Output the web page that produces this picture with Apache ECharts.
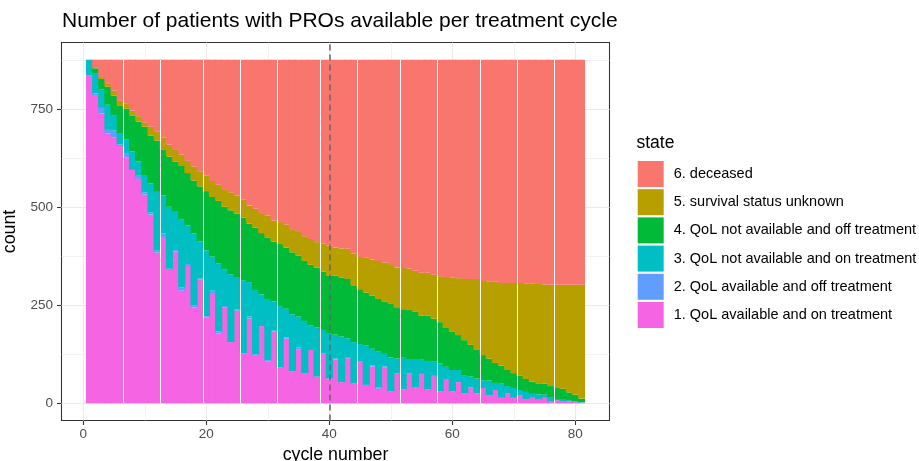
<!DOCTYPE html>
<html>
<head>
<meta charset="utf-8">
<script src="https://cdn.jsdelivr.net/npm/echarts@6/dist/echarts.min.js"></script>
<style>
html, body { margin: 0; padding: 0; background: #fff; }
#chart { width: 919px; height: 461px; }
</style>
</head>
<body>
<div id="chart"></div>
<script>
// cycle numbers (x)
const cycles = [1,2,3,4,5,6,7,8,9,10,11,12,13,14,15,16,17,18,19,20,
  21,22,23,24,25,26,27,28,29,30,31,32,33,34,35,36,37,38,39,40,
  41,42,43,44,45,46,47,48,49,50,51,52,53,54,55,56,57,58,59,60,
  61,62,63,64,65,66,67,68,69,70,71,72,73,74,75,76,77,78,79,80,81];

// counts per state
const qolOnTreatment = [836,786,739,688,678,656,627,595,572,532,481,384,424,340,387,287,350,244,315,219,
  281,178,245,156,236,128,216,121,197,107,183,91,165,82,138,77,136,68,128,61,
  112,54,115,50,106,47,94,37,92,30,77,35,77,40,75,35,70,31,60,30,
  54,26,41,25,39,21,34,14,26,14,21,11,14,9,14,4,8,6,5,3,2];
const qolOffTreatment = [0,4,14,9,17,4,9,0,8,6,5,5,9,3,4,8,5,5,4,3,
  6,5,3,0,3,0,5,4,0,3,2,0,3,0,4,0,0,0,0,3,
  2,0,3,0,0,0,2,3,2,0,0,0,0,0,0,0,0,0,0,0,
  0,0,0,0,0,0,0,0,0,0,0,0,0,0,0,0,0,0,0,0,0];
const noQolOnTreatment = [40,50,48,64,38,29,36,47,37,42,75,150,97,158,97,173,98,184,94,168,
  87,173,94,173,83,186,88,164,81,156,75,157,73,145,79,133,62,125,59,113,
  61,116,48,106,45,100,43,93,32,87,37,83,36,73,36,73,36,71,33,55,
  31,46,27,38,20,37,18,36,18,25,13,18,10,14,8,12,3,5,3,2,1];
const noQolOffTreatment = [0,14,26,46,51,69,79,92,101,125,121,131,116,128,128,137,134,135,140,151,
  152,160,159,163,162,159,149,159,156,157,152,158,156,158,155,153,155,153,149,149,
  151,151,151,145,140,135,135,133,134,138,131,122,125,120,113,116,110,105,99,97,
  89,89,81,73,64,56,51,46,41,38,36,33,31,28,28,28,28,26,20,17,9];
const survivalUnknown = [0,3,5,9,13,13,14,12,14,10,23,22,31,30,32,29,31,36,37,40,
  41,41,45,46,46,46,46,48,51,55,54,56,59,59,61,63,66,65,71,76,
  71,74,77,80,82,90,93,97,99,100,101,105,105,105,109,109,112,117,130,138,
  145,156,168,181,189,196,207,211,222,230,237,244,250,253,253,258,263,265,274,280,290];
const deceased = [0,19,44,60,79,105,111,130,144,161,171,184,199,217,228,242,258,272,286,295,
  309,319,330,338,346,357,372,380,391,398,410,414,420,432,439,450,457,465,469,474,
  479,481,482,495,503,504,509,513,517,521,530,531,533,538,543,543,548,552,554,556,
  557,559,559,559,564,566,566,569,569,569,569,570,571,572,573,574,574,574,574,574,574];

const stateNames = [
  '1. QoL available and on treatment',
  '2. QoL available and off treatment',
  '3. QoL not available and on treatment',
  '4. QoL not available and off treatment',
  '5. survival status unknown',
  '6. deceased'
];
const stateColors = ['#F564E3', '#619CFF', '#00BFC4', '#00BA38', '#B79F00', '#F8766D'];
const stateValues = [qolOnTreatment, qolOffTreatment, noQolOnTreatment, noQolOffTreatment, survivalUnknown, deceased];

// axis ticks
const xTicks = [0, 20, 40, 60, 80];
const xMinor = [10, 30, 50, 70];
const yTicks = [0, 250, 500, 750];
const yMinor = [125, 375, 625, 875];
const cutoffCycle = 40;
// cycles after which the reference shows a thin white seam
const seamAfter = [6, 12, 19, 25, 31, 38, 44, 51, 57, 64, 70, 76];

const font = "'Liberation Sans', Arial, Helvetica, sans-serif";
const chart = echarts.init(document.getElementById('chart'));

const gridWidth = 548;
const totals = cycles.map((c, i) => stateValues.reduce((s, arr) => s + arr[i], 0));
const maxTotal = Math.max(...totals);
const yPad = maxTotal * 0.05;
const xPad = (cycles[cycles.length - 1] - cycles[0] + 1) * 0.05;
const xMin = cycles[0] - 0.5 - xPad;
const xMax = cycles[cycles.length - 1] + 0.5 + xPad;
// one cycle wide, plus a pixel of overlap so neighbouring bars leave no hairline
const barPx = gridWidth / (xMax - xMin) + 1;

// value first, cycle second, so that the stack runs along y
const barSeries = stateValues.map((vals, k) => ({
  name: stateNames[k],
  type: 'bar',
  stack: 'count',
  barWidth: barPx,
  z: 2,
  silent: true,
  itemStyle: { color: stateColors[k] },
  encode: { x: 1, y: 0 },
  data: cycles.map((c, i) => [vals[i], c])
}));

const gridLines = [].concat(
  yTicks.map(v => ({ yAxis: v, lineStyle: { width: 1.1 } })),
  yMinor.map(v => ({ yAxis: v, lineStyle: { width: 0.6 } })),
  xTicks.map(v => ({ xAxis: v, lineStyle: { width: 1.1 } })),
  xMinor.map(v => ({ xAxis: v, lineStyle: { width: 0.6 } }))
);

const seams = seamAfter.map(c => [
  { coord: [c + 0.5, 0], lineStyle: { color: '#fff', width: 1, type: 'solid' } },
  { coord: [c + 0.5, Math.min(totals[c - 1], totals[c])] }
]);

chart.setOption({
  animation: false,
  backgroundColor: '#fff',
  title: [
    {
      text: 'Number of patients with PROs available per treatment cycle',
      left: 62, top: 11, padding: 0,
      textStyle: { fontFamily: font, fontSize: 21, fontWeight: 'normal', color: '#000' }
    },
    {
      text: 'state',
      left: 636.5, top: 134.5, padding: 0,
      textStyle: { fontFamily: font, fontSize: 17.5, fontWeight: 'normal', color: '#000' }
    }
  ],
  legend: {
    orient: 'vertical',
    left: 637.7, top: 161, padding: 0,
    itemWidth: 26, itemHeight: 26, itemGap: 2.2,
    icon: 'rect',
    selectedMode: false,
    data: stateNames.slice().reverse(),
    textStyle: { fontFamily: font, fontSize: 14.5, color: '#000', padding: [0, 0, 0, 5] }
  },
  grid: {
    left: 61.5, top: 42.5, width: gridWidth, height: 378,
    show: true, borderColor: '#333333', borderWidth: 1.07, backgroundColor: '#fff',
    outerBoundsMode: 'none'
  },
  xAxis: {
    type: 'value',
    min: xMin,
    max: xMax,
    name: 'cycle number', nameLocation: 'middle', nameGap: 25,
    nameTextStyle: { fontFamily: font, fontSize: 17.8, color: '#000' },
    axisLine: { show: false, onZero: false },
    axisTick: { show: true, length: 4.5, lineStyle: { color: '#333', width: 1.07 }, customValues: xTicks },
    axisLabel: { customValues: xTicks, fontFamily: font, fontSize: 13.5, color: '#4D4D4D', margin: 7 },
    splitLine: { show: false }
  },
  yAxis: {
    type: 'value',
    min: -yPad, max: maxTotal + yPad,
    name: 'count', nameLocation: 'middle', nameGap: 37, nameRotate: 90,
    nameTextStyle: { fontFamily: font, fontSize: 17.8, color: '#000' },
    axisLine: { show: false, onZero: false },
    axisTick: { show: true, length: 4.5, lineStyle: { color: '#333', width: 1.07 }, customValues: yTicks },
    axisLabel: { customValues: yTicks, fontFamily: font, fontSize: 13.5, color: '#4D4D4D', margin: 8.5 },
    splitLine: { show: false }
  },
  series: [
    {
      type: 'line', data: [], z: 1, silent: true,
      markLine: {
        z: 1, silent: true, symbol: 'none', animation: false,
        label: { show: false },
        lineStyle: { color: '#EBEBEB', type: 'solid' },
        data: gridLines
      }
    },
    ...barSeries,
    {
      type: 'line', data: [], z: 5, silent: true,
      markLine: {
        z: 5, silent: true, symbol: 'none', animation: false,
        label: { show: false },
        data: seams.concat([
          { xAxis: cutoffCycle, lineStyle: { color: '#666', width: 1.5, type: [6, 4] } }
        ])
      }
    }
  ]
});
</script>
</body>
</html>
